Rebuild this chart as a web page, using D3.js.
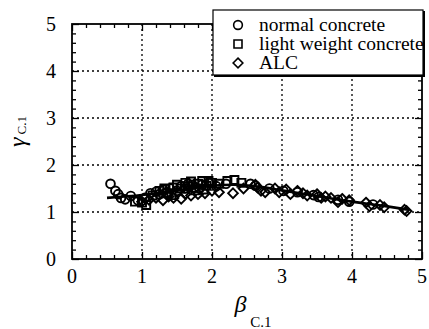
<!DOCTYPE html>
<html>
<head>
<meta charset="utf-8">
<script src="https://cdn.jsdelivr.net/npm/d3@7"></script>
<style>
  body { margin: 0; background: #fff; }
  svg { display: block; }
  svg text { font-family: "Liberation Serif", "Times New Roman", Times, "DejaVu Serif", serif; }
</style>
</head>
<body>
<div class="chart"></div>
<script>
// data: [beta, gamma]
const normal_pts = [[0.55,1.60],[0.62,1.45],[0.66,1.38],[0.70,1.30],[0.76,1.27],[0.84,1.34],[0.94,1.25],[1.04,1.30],[1.12,1.40],[1.20,1.43],[1.30,1.48],[1.40,1.50],[1.50,1.45],[1.56,1.55],[1.66,1.60],[1.76,1.52],[1.86,1.58],[1.96,1.62],[2.06,1.55],[2.20,1.60],[2.55,1.60],[2.62,1.56],[2.82,1.50],[3.02,1.45],[3.22,1.42],[3.45,1.36],[3.52,1.32],[3.80,1.26],[3.96,1.22],[4.30,1.16],[1.25,1.38],[1.35,1.42],[1.62,1.50],[1.72,1.58],[1.82,1.50]];
const light_pts = [[0.90,1.22],[1.00,1.20],[1.06,1.15],[1.15,1.35],[1.25,1.45],[1.36,1.40],[1.45,1.52],[1.55,1.50],[1.62,1.62],[1.70,1.65],[1.80,1.60],[1.86,1.66],[1.92,1.56],[2.00,1.62],[2.10,1.60],[2.22,1.66],[2.32,1.68],[2.42,1.62],[1.42,1.36],[1.76,1.46],[1.65,1.55],[1.95,1.66],[1.32,1.50],[1.50,1.58],[1.88,1.48]];
const alc_pts = [[1.00,1.22],[1.10,1.26],[1.20,1.30],[1.30,1.25],[1.45,1.30],[1.56,1.28],[1.70,1.35],[1.80,1.38],[1.90,1.40],[2.00,1.45],[2.10,1.42],[2.30,1.40],[2.45,1.50],[2.62,1.58],[2.70,1.45],[2.76,1.42],[2.90,1.50],[2.96,1.42],[3.06,1.48],[3.12,1.38],[3.22,1.45],[3.30,1.40],[3.36,1.35],[3.50,1.38],[3.56,1.30],[3.70,1.30],[3.80,1.21],[3.86,1.28],[3.96,1.25],[4.20,1.20],[4.25,1.12],[4.40,1.15],[4.46,1.10],[4.75,1.05],[4.78,1.02],[1.38,1.33],[1.62,1.38],[2.65,1.52],[3.62,1.33]];
// fitted curve
const fit_x = [0.50, 1.00, 1.50, 2.00, 2.30, 2.60, 3.00, 3.50, 4.00, 4.50, 4.80];
const fit_y = [1.30, 1.36, 1.46, 1.56, 1.58, 1.55, 1.46, 1.34, 1.22, 1.12, 1.05];

const x_ticks = [0, 1, 2, 3, 4, 5];
const y_ticks = [0, 1, 2, 3, 4, 5];
const legend_labels = ["normal concrete", "light weight concrete", "ALC"];

const W = 429, H = 329;
const m = {left: 72, top: 24, right: 7, bottom: 70};
const pw = W - m.left - m.right, ph = H - m.top - m.bottom;
const serif = '"Liberation Serif", "Times New Roman", Times, "DejaVu Serif", serif';

const svg = d3.select(".chart").append("svg")
  .attr("width", W).attr("height", H)
  .attr("font-family", serif);

const x = d3.scaleLinear().domain([0, 5]).range([m.left, m.left + pw]);
const y = d3.scaleLinear().domain([0, 5]).range([m.top + ph, m.top]);

const minor = d3.range(0, 5.001, 0.2).filter(v => Math.abs(v - Math.round(v)) > 0.01);

// dotted grid
svg.append("g").selectAll("line")
  .data(x_ticks.slice(1, -1)).join("line")
  .attr("x1", d => x(d)).attr("x2", d => x(d))
  .attr("y1", m.top).attr("y2", m.top + ph)
  .attr("stroke", "#000").attr("stroke-width", 1.3).attr("stroke-dasharray", "2,3");
svg.append("g").selectAll("line")
  .data(y_ticks.slice(1, -1)).join("line")
  .attr("y1", d => y(d)).attr("y2", d => y(d))
  .attr("x1", m.left).attr("x2", m.left + pw)
  .attr("stroke", "#000").attr("stroke-width", 1.3).attr("stroke-dasharray", "2,3");

// axes with inward ticks on all four sides
function tickAxis(axis, vals, size, tr) {
  const g = svg.append("g").attr("transform", tr)
    .call(axis.tickValues(vals).tickSize(-size).tickFormat(""));
  g.select(".domain").remove();
  g.selectAll("line").attr("stroke-width", 1.3);
}
tickAxis(d3.axisBottom(x), x_ticks, 7, `translate(0,${m.top + ph})`);
tickAxis(d3.axisBottom(x), minor, 4, `translate(0,${m.top + ph})`);
tickAxis(d3.axisTop(x), x_ticks, 7, `translate(0,${m.top})`);
tickAxis(d3.axisTop(x), minor, 4, `translate(0,${m.top})`);
tickAxis(d3.axisLeft(y), y_ticks, 7, `translate(${m.left},0)`);
tickAxis(d3.axisLeft(y), minor, 4, `translate(${m.left},0)`);
tickAxis(d3.axisRight(y), y_ticks, 7, `translate(${m.left + pw},0)`);
tickAxis(d3.axisRight(y), minor, 4, `translate(${m.left + pw},0)`);

svg.append("rect")
  .attr("x", m.left).attr("y", m.top).attr("width", pw).attr("height", ph)
  .attr("fill", "none").attr("stroke", "#000").attr("stroke-width", 1.8);

// tick labels
svg.append("g").selectAll("text").data(x_ticks).join("text")
  .attr("x", d => x(d)).attr("y", m.top + ph + 24)
  .attr("text-anchor", "middle").attr("font-size", 20)
  .text(d => d);
svg.append("g").selectAll("text").data(y_ticks).join("text")
  .attr("x", m.left - 16).attr("y", d => y(d) + 6.5)
  .attr("text-anchor", "end").attr("font-size", 20)
  .text(d => d);

// fit line
const line = d3.line().x(d => x(d[0])).y(d => y(d[1])).curve(d3.curveMonotoneX);
svg.append("path")
  .datum(fit_x.map((v, i) => [v, fit_y[i]]))
  .attr("d", line).attr("fill", "none")
  .attr("stroke", "#000").attr("stroke-width", 2.6);

// markers
const sym_circle = d3.symbol().type(d3.symbolCircle).size(60);
const sym_square = d3.symbol().type(d3.symbolSquare).size(64);
const sym_diamond = d3.symbol().type(d3.symbolDiamond2).size(60);
function drawPts(pts, sym) {
  svg.append("g").selectAll("path").data(pts).join("path")
    .attr("transform", d => `translate(${x(d[0])},${y(d[1])})`)
    .attr("d", sym).attr("fill", "none")
    .attr("stroke", "#000").attr("stroke-width", 1.9);
}
drawPts(normal_pts, sym_circle);
drawPts(light_pts, sym_square);
drawPts(alc_pts, sym_diamond);

// legend
const lg = svg.append("g");
lg.append("rect").attr("x", 214).attr("y", 11).attr("width", 211).attr("height", 66).attr("fill", "#000");
lg.append("rect").attr("x", 213).attr("y", 10).attr("width", 210).attr("height", 65)
  .attr("fill", "#fff").attr("stroke", "#000").attr("stroke-width", 1.2);
const syms = [sym_circle, sym_square, sym_diamond];
legend_labels.forEach((lab, i) => {
  const yy = 25 + i * 19;
  lg.append("path").attr("transform", `translate(238,${yy})`)
    .attr("d", syms[i]).attr("fill", "none").attr("stroke", "#000").attr("stroke-width", 1.6);
  lg.append("text").attr("x", 259).attr("y", yy + 5.5)
    .attr("font-size", 19.5).text(lab);
});

// axis titles
svg.append("text")
  .attr("transform", `translate(25,${m.top + ph / 2 - 10}) rotate(-90)`)
  .attr("text-anchor", "middle")
  .call(t => {
    t.append("tspan").attr("font-size", 24).attr("font-style", "italic").text("γ");
    t.append("tspan").attr("font-size", 13).attr("dy", 1).attr("dx", 3).text("C.1");
  });
svg.append("text")
  .attr("x", x(2.5) + 6).attr("y", 312)
  .attr("text-anchor", "middle")
  .call(t => {
    t.append("tspan").attr("font-size", 24).attr("font-style", "italic").text("β");
    t.append("tspan").attr("font-size", 15).attr("dy", 15).attr("dx", 4).text("C.1");
  });
</script>
</body>
</html>
